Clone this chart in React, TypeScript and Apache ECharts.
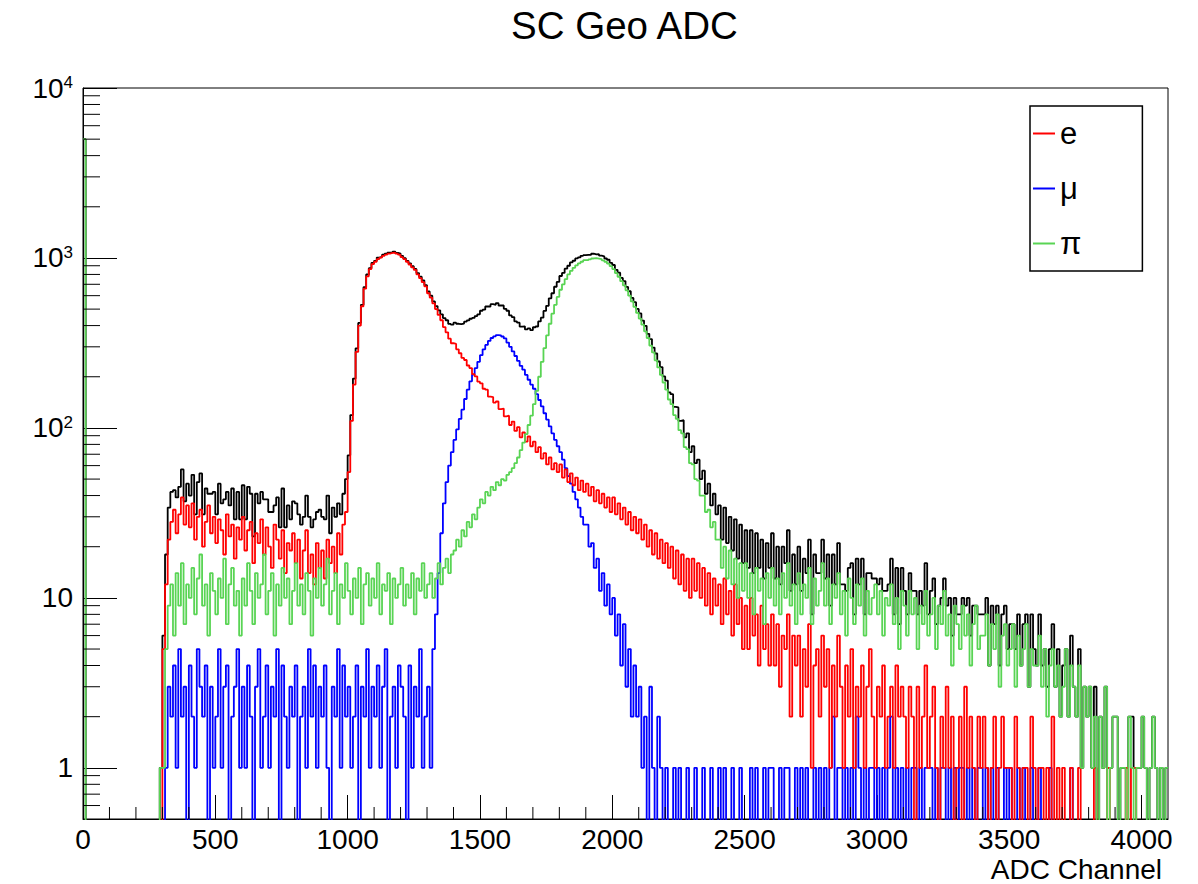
import React, { useEffect, useRef } from 'react';
import * as echarts from 'echarts';

// Histogram binning (ADC channels per bin) and axis ranges
const BIN_WIDTH = 10;
const X_MIN = 0;
const X_MAX = 4100;
const X_INTERVAL = 500;
const Y_MIN = 0.5;
const Y_MAX = 10000;
const ZERO_FLOOR = 0.3; // empty bins are drawn below the axis floor (like ROOT)

const TITLE = 'SC Geo ADC';
const X_NAME = 'ADC Channel';
const LEGEND_NAMES = ['e', 'μ', 'π'];
const Y_MINOR_MULTIPLIERS = [2, 3, 4, 5, 6, 7, 8, 9];

// Counts per 10-channel bin (bin i covers [10*i, 10*i+10)), one row = 100 channels
const totalCounts = [
  5000, 0, 0, 0, 0, 0, 0, 0, 0, 0,
  0, 0, 0, 0, 0, 0, 0, 0, 0, 0,
  0, 0, 0, 0, 0, 0, 0, 0, 0, 1,
  6, 18, 34, 42, 43, 39, 45, 57, 37, 47,
  40, 53, 31, 48, 54, 31, 44, 41, 41, 42,
  31, 47, 36, 38, 42, 35, 44, 29, 42, 29,
  46, 29, 45, 41, 23, 41, 36, 42, 38, 38,
  32, 32, 35, 39, 26, 44, 26, 35, 29, 37,
  36, 31, 27, 30, 40, 30, 26, 29, 32, 33,
  30, 29, 40, 24, 34, 30, 36, 31, 41, 50,
  69, 119, 195, 294, 415, 530, 674, 799, 870, 936,
  962, 1005, 1014, 1045, 1061, 1074, 1079, 1091, 1071, 1061,
  1028, 996, 962, 929, 895, 861, 815, 776, 737, 692,
  635, 600, 555, 521, 492, 466, 443, 430, 409, 405,
  416, 410, 408, 411, 422, 429, 439, 444, 455, 466,
  489, 496, 518, 518, 535, 530, 543, 525, 525, 502,
  489, 459, 449, 423, 416, 394, 396, 380, 385, 376,
  391, 395, 423, 445, 488, 523, 579, 620, 677, 723,
  783, 816, 865, 900, 941, 963, 994, 1007, 1029, 1039,
  1044, 1042, 1059, 1050, 1052, 1032, 1023, 993, 976, 935,
  909, 852, 819, 763, 731, 675, 637, 582, 549, 501,
  472, 428, 399, 358, 333, 297, 274, 246, 228, 201,
  190, 162, 158, 133, 132, 110, 111, 88, 93, 72,
  78, 62, 65, 50, 56, 41, 47, 35, 41, 31,
  35, 22, 34, 21, 30, 19, 29, 17, 27, 16,
  25, 15, 25, 14, 24, 15, 22, 13, 21, 15,
  24, 13, 20, 12, 20, 16, 25, 11, 18, 12,
  20, 11, 17, 14, 22, 8, 18, 14, 14, 22,
  13, 18, 9, 18, 12, 21, 12, 12, 11, 15,
  16, 8, 17, 12, 17, 8, 14, 14, 13, 13,
  12, 13, 11, 11, 12, 17, 8, 15, 7, 15,
  11, 8, 14, 11, 11, 8, 11, 9, 16, 8,
  11, 13, 7, 9, 10, 13, 9, 10, 6, 10,
  8, 8, 10, 9, 10, 6, 9, 9, 8, 8,
  8, 10, 4, 9, 7, 9, 4, 8, 9, 5,
  7, 7, 5, 8, 4, 7, 8, 3, 8, 5,
  4, 8, 4, 5, 3, 5, 7, 3, 5, 2,
  4, 5, 2, 6, 3, 2, 5, 1, 3, 2,
  3, 1, 3, 0, 2, 1, 3, 1, 1, 2,
  2, 0, 1, 1, 1, 2, 2, 1, 1, 1,
  2, 1, 0, 1, 2, 1, 0, 1, 0, 1,
];

const electronCounts = [
  0, 0, 0, 0, 0, 0, 0, 0, 0, 0,
  0, 0, 0, 0, 0, 0, 0, 0, 0, 0,
  0, 0, 0, 0, 0, 0, 0, 0, 0, 0,
  5, 12, 22, 28, 33, 24, 31, 39, 27, 35,
  26, 36, 22, 30, 33, 20, 28, 35, 24, 30,
  21, 29, 25, 18, 31, 23, 27, 17, 26, 22,
  30, 19, 25, 28, 16, 24, 21, 29, 18, 26,
  20, 15, 27, 22, 17, 25, 14, 21, 19, 24,
  16, 22, 13, 19, 25, 14, 18, 12, 21, 15,
  19, 13, 22, 16, 20, 14, 24, 18, 27, 32,
  55, 110, 180, 280, 400, 520, 660, 780, 860, 920,
  950, 985, 1005, 1030, 1045, 1060, 1070, 1075, 1060, 1045,
  1010, 985, 950, 915, 880, 850, 800, 760, 720, 680,
  620, 585, 540, 500, 462, 430, 392, 365, 335, 315,
  312, 290, 275, 258, 251, 233, 225, 207, 201, 187,
  183, 170, 168, 153, 152, 141, 143, 129, 130, 117,
  118, 104, 109, 96, 101, 88, 94, 83, 89, 78,
  83, 72, 77, 66, 71, 61, 67, 57, 62, 55,
  61, 51, 57, 48, 54, 46, 51, 43, 49, 42,
  47, 40, 45, 37, 43, 36, 41, 34, 39, 32,
  39, 31, 36, 29, 34, 27, 32, 25, 30, 24,
  29, 22, 27, 20, 25, 18, 24, 17, 22, 16,
  21, 15, 20, 13, 19, 12, 18, 11, 17, 10,
  17, 11, 16, 10, 15, 9, 14, 8, 13, 9,
  12, 7, 13, 8, 11, 6, 12, 7, 10, 5,
  9, 5, 10, 6, 8, 4, 9, 5, 7, 4,
  8, 4, 7, 3, 6, 5, 8, 2, 6, 4,
  6, 2, 5, 3, 7, 1, 4, 5, 2, 6,
  3, 5, 1, 4, 2, 6, 3, 1, 4, 2,
  5, 1, 3, 2, 4, 1, 3, 5, 2, 1,
  3, 2, 4, 1, 2, 3, 1, 4, 2, 3,
  2, 1, 3, 2, 0, 3, 1, 2, 4, 1,
  2, 3, 1, 0, 2, 1, 3, 1, 2, 0,
  1, 2, 0, 3, 1, 2, 1, 0, 2, 1,
  2, 1, 0, 1, 2, 0, 1, 2, 1, 1,
  1, 0, 2, 1, 0, 1, 1, 0, 2, 1,
  0, 1, 1, 0, 1, 0, 2, 0, 1, 0,
  1, 0, 0, 1, 0, 0, 1, 0, 0, 0,
  0, 0, 1, 0, 0, 0, 0, 1, 0, 0,
  0, 0, 0, 0, 1, 0, 1, 1, 0, 0,
  0, 0, 0, 0, 0, 0, 0, 0, 0, 0,
];

const muonCounts = [
  0, 0, 0, 0, 0, 0, 0, 0, 0, 0,
  0, 0, 0, 0, 0, 0, 0, 0, 0, 0,
  0, 0, 0, 0, 0, 0, 0, 0, 0, 0,
  0, 1, 3, 2, 4, 1, 5, 2, 3, 0,
  4, 2, 1, 5, 3, 2, 4, 0, 3, 1,
  2, 5, 1, 3, 4, 0, 2, 3, 5, 1,
  3, 1, 4, 2, 0, 3, 5, 1, 2, 4,
  1, 3, 2, 5, 0, 4, 2, 1, 3, 2,
  4, 0, 2, 3, 1, 5, 2, 4, 1, 3,
  2, 4, 1, 0, 3, 2, 5, 1, 4, 2,
  3, 1, 2, 4, 0, 3, 2, 5, 1, 3,
  2, 4, 1, 3, 5, 0, 2, 3, 1, 4,
  3, 2, 0, 4, 1, 3, 2, 5, 1, 2,
  3, 1, 5, 8, 14, 24, 36, 48, 60, 72,
  85, 98, 113, 128, 148, 168, 188, 206, 225, 245,
  268, 290, 308, 325, 338, 346, 352, 350, 345, 336,
  318, 300, 282, 265, 248, 232, 220, 205, 192, 180,
  170, 158, 146, 134, 122, 112, 102, 93, 85, 78,
  72, 65, 58, 52, 47, 42, 38, 34, 30, 27,
  27, 20, 21, 15, 17, 11, 14, 9, 12, 8,
  10, 6, 8, 4, 7, 3, 5, 2, 4, 2,
  3, 1, 2, 0, 3, 1, 0, 2, 1, 0,
  1, 0, 0, 1, 0, 1, 0, 0, 1, 0,
  0, 1, 0, 0, 1, 0, 0, 1, 0, 0,
  1, 0, 1, 0, 0, 1, 0, 0, 1, 0,
  0, 0, 1, 0, 1, 0, 0, 1, 0, 1,
  1, 0, 0, 1, 0, 1, 1, 0, 0, 1,
  0, 1, 0, 1, 0, 0, 1, 0, 1, 0,
  1, 0, 1, 2, 0, 1, 1, 0, 1, 0,
  1, 0, 2, 1, 0, 1, 0, 1, 1, 0,
  1, 0, 1, 0, 1, 2, 0, 1, 0, 1,
  0, 1, 0, 1, 1, 0, 1, 0, 1, 1,
  1, 0, 1, 0, 1, 1, 0, 1, 0, 1,
  0, 1, 1, 0, 1, 0, 1, 0, 1, 1,
  0, 1, 0, 1, 0, 1, 0, 0, 1, 0,
  1, 0, 0, 1, 0, 1, 0, 0, 1, 0,
  0, 1, 0, 0, 0, 1, 0, 0, 0, 0,
  0, 0, 0, 1, 0, 0, 0, 0, 0, 0,
  0, 0, 0, 0, 0, 0, 0, 0, 0, 0,
  0, 0, 0, 0, 0, 0, 0, 0, 0, 0,
  0, 0, 0, 0, 0, 0, 0, 0, 0, 0,
];

const pionCounts = [
  5000, 0, 0, 0, 0, 0, 0, 0, 0, 0,
  0, 0, 0, 0, 0, 0, 0, 0, 0, 0,
  0, 0, 0, 0, 0, 0, 0, 0, 0, 1,
  1, 5, 9, 12, 6, 14, 9, 16, 7, 12,
  10, 15, 8, 13, 18, 9, 12, 6, 14, 11,
  8, 13, 10, 17, 7, 12, 15, 9, 11, 6,
  13, 9, 16, 11, 7, 14, 10, 12, 18, 8,
  11, 14, 6, 12, 9, 15, 10, 13, 7, 11,
  16, 9, 12, 8, 14, 11, 6, 13, 10, 15,
  9, 12, 17, 8, 11, 14, 7, 12, 10, 16,
  11, 8, 13, 10, 15, 7, 12, 14, 9, 13,
  10, 16, 8, 12, 11, 14, 7, 13, 10, 12,
  15, 9, 12, 10, 14, 8, 13, 11, 16, 10,
  12, 14, 10, 13, 16, 12, 15, 17, 14, 18,
  19, 22, 20, 25, 23, 28, 26, 31, 29, 34,
  38, 36, 42, 40, 45, 43, 48, 46, 50, 49,
  53, 55, 58, 62, 67, 74, 82, 92, 104, 118,
  138, 165, 200, 245, 295, 350, 410, 470, 530, 590,
  650, 700, 750, 800, 840, 875, 905, 930, 950, 970,
  970, 982, 993, 998, 992, 985, 968, 950, 925, 895,
  860, 815, 775, 730, 690, 645, 600, 555, 515, 475,
  440, 405, 370, 338, 305, 278, 250, 227, 205, 185,
  168, 147, 138, 119, 113, 97, 93, 77, 75, 62,
  61, 50, 49, 40, 40, 32, 33, 26, 28, 22,
  22, 15, 20, 13, 19, 12, 17, 10, 16, 11,
  16, 10, 14, 8, 15, 11, 13, 7, 14, 10,
  15, 9, 13, 8, 14, 10, 16, 9, 12, 7,
  14, 8, 12, 10, 15, 7, 13, 9, 11, 16,
  9, 13, 7, 12, 10, 14, 8, 11, 6, 13,
  10, 7, 12, 9, 13, 6, 11, 8, 10, 12,
  8, 11, 6, 10, 9, 12, 7, 10, 5, 11,
  9, 6, 11, 8, 10, 5, 9, 7, 11, 6,
  8, 10, 5, 9, 7, 11, 6, 8, 4, 9,
  7, 5, 9, 6, 8, 4, 7, 9, 5, 6,
  6, 8, 4, 7, 5, 8, 3, 6, 7, 4,
  5, 7, 3, 6, 4, 5, 7, 3, 5, 4,
  4, 6, 3, 5, 2, 4, 5, 3, 4, 2,
  3, 5, 2, 4, 3, 2, 4, 1, 3, 2,
  3, 1, 2, 0, 2, 1, 3, 0, 1, 2,
  2, 0, 1, 1, 0, 2, 1, 0, 1, 1,
  2, 1, 0, 1, 2, 1, 0, 1, 0, 1,
];

const FONT = "'Liberation Sans', Arial, Helvetica, sans-serif";

function toSteps(counts: number[]) {
  const pts: number[][] = counts.map((c, i) => [X_MIN + i * BIN_WIDTH, c > 0 ? c : ZERO_FLOOR]);
  const last = counts[counts.length - 1];
  pts.push([X_MIN + counts.length * BIN_WIDTH, last > 0 ? last : ZERO_FLOOR]);
  return pts;
}

function xMinorTicks() {
  const out: number[][] = [];
  for (let v = X_MIN + 100; v < X_MAX; v += 100) {
    if (v % X_INTERVAL !== 0) out.push([v, Y_MIN]);
  }
  return out;
}

function yMinorTicks() {
  const out: number[][] = [];
  for (let e = -1; e <= 3; e++) {
    for (const m of Y_MINOR_MULTIPLIERS) {
      const v = m * Math.pow(10, e);
      if (v > Y_MIN && v < Y_MAX) out.push([X_MIN, v]);
    }
  }
  return out;
}

function histSeries(name: string, counts: number[], color: string, z: number) {
  return {
    name,
    type: 'line',
    step: 'end',
    data: toSteps(counts),
    symbol: 'none',
    showSymbol: false,
    silent: true,
    clip: true,
    z,
    lineStyle: { color, width: 1.8 },
    itemStyle: { color },
  };
}

export default function App() {
  const ref = useRef<HTMLDivElement>(null);
  useEffect(() => {
    document.body.style.margin = '0';
    const chart = echarts.init(ref.current!, null, { renderer: 'svg', width: 1198, height: 884 });
    const option: any = {
      animation: false,
      backgroundColor: '#ffffff',
      textStyle: { fontFamily: FONT, color: '#000' },
      title: {
        text: TITLE,
        left: 506,
        top: 1,
        textStyle: { fontFamily: FONT, fontSize: 38.5, fontWeight: 'normal', color: '#000' },
      },
      legend: {
        data: LEGEND_NAMES,
        orient: 'vertical',
        left: 1030,
        top: 106,
        padding: [12, 61, 12, 3],
        itemGap: 24,
        itemWidth: 22,
        itemHeight: 2,
        icon: 'rect',
        selectedMode: false,
        borderColor: '#000',
        borderWidth: 1.5,
        backgroundColor: '#fff',
        textStyle: { fontFamily: FONT, fontSize: 31, color: '#000' },
      },
      grid: {
        left: 83,
        right: 30,
        top: 88,
        bottom: 65,
        show: true,
        borderColor: '#000',
        borderWidth: 1,
        backgroundColor: 'transparent',
      },
      xAxis: {
        type: 'value',
        min: X_MIN,
        max: X_MAX,
        interval: X_INTERVAL,
        name: X_NAME,
        nameLocation: 'end',
        nameGap: -6,
        nameTextStyle: {
          fontFamily: FONT,
          fontSize: 28,
          color: '#000',
          align: 'right',
          verticalAlign: 'top',
          padding: [36, 0, 0, 0],
        },
        axisLine: { show: true, onZero: false, lineStyle: { color: '#000', width: 1 } },
        axisTick: { show: true, inside: true, length: 24, lineStyle: { color: '#000', width: 1 } },
        axisLabel: {
          fontFamily: FONT,
          fontSize: 28,
          color: '#000',
          margin: 6,
          showMaxLabel: false,
          formatter: (v: number) => String(v),
        },
        splitLine: { show: false },
      },
      yAxis: {
        type: 'log',
        logBase: 10,
        min: Y_MIN,
        max: Y_MAX,
        axisLine: { show: true, lineStyle: { color: '#000', width: 1 } },
        axisTick: { show: true, inside: true, length: 34, lineStyle: { color: '#000', width: 1 } },
        axisLabel: {
          fontFamily: FONT,
          fontSize: 28,
          color: '#000',
          margin: 10,
          formatter: (v: number) => {
            const lg = Math.log10(v);
            const e = Math.round(lg);
            if (Math.abs(lg - e) > 1e-6) return '';
            if (e === 0) return '1';
            if (e === 1) return '10';
            return `10{sup|${e}}`;
          },
          rich: {
            sup: { fontFamily: FONT, fontSize: 17, color: '#000', verticalAlign: 'top' },
          },
        },
        splitLine: { show: false },
      },
      series: [
        histSeries('total', totalCounts, '#000000', 2),
        histSeries('μ', muonCounts, '#0000ff', 3),
        histSeries('e', electronCounts, '#ff0000', 4),
        histSeries('π', pionCounts, '#59d454', 5),
        {
          name: 'xMinor',
          type: 'custom',
          silent: true,
          z: 10,
          data: xMinorTicks(),
          renderItem: (_p: any, api: any) => {
            const pt = api.coord([api.value(0), Y_MIN]);
            return {
              type: 'line',
              shape: { x1: pt[0], y1: pt[1], x2: pt[0], y2: pt[1] - 12 },
              style: { stroke: '#000', lineWidth: 1, fill: null },
            };
          },
        },
        {
          name: 'yMinor',
          type: 'custom',
          silent: true,
          z: 10,
          data: yMinorTicks(),
          renderItem: (_p: any, api: any) => {
            const pt = api.coord([X_MIN, api.value(1)]);
            return {
              type: 'line',
              shape: { x1: pt[0], y1: pt[1], x2: pt[0] + 17, y2: pt[1] },
              style: { stroke: '#000', lineWidth: 1, fill: null },
            };
          },
        },
      ],
    };
    chart.setOption(option);
    return () => chart.dispose();
  }, []);
  return <div ref={ref} style={{ width: 1198, height: 884 }} />;
}
